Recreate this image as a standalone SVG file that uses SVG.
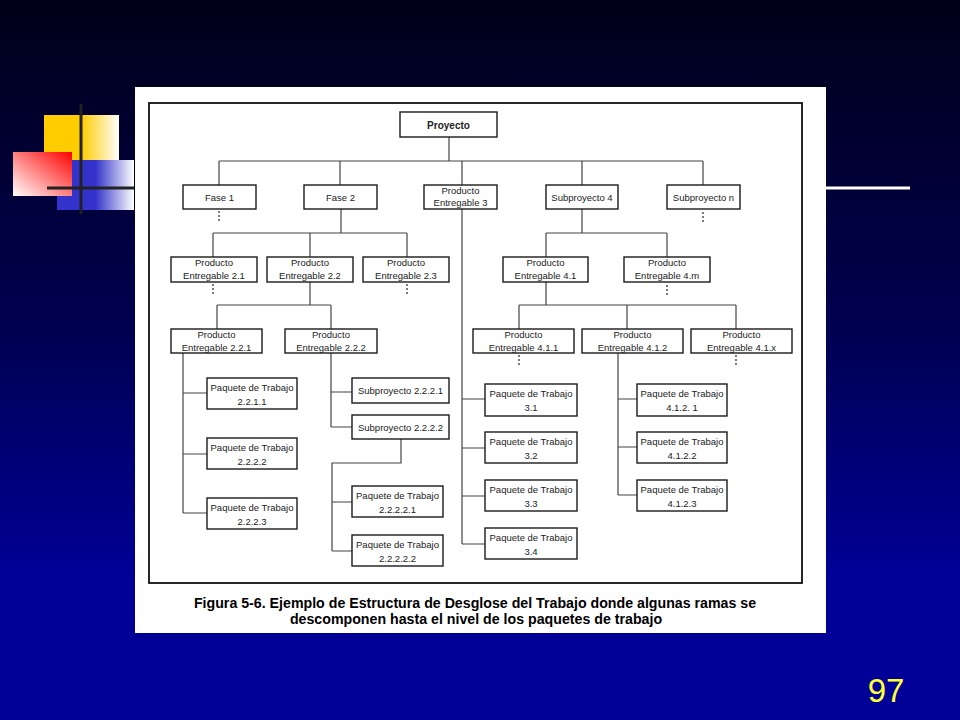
<svg xmlns="http://www.w3.org/2000/svg" width="960" height="720" viewBox="0 0 960 720">
<defs>
<linearGradient id="bg" x1="0" y1="0" x2="0" y2="1">
<stop offset="0" stop-color="#000018"/>
<stop offset="0.45" stop-color="#000050"/>
<stop offset="0.8" stop-color="#000096"/>
<stop offset="1" stop-color="#000099"/>
</linearGradient>
<linearGradient id="gy" x1="0" y1="0" x2="1" y2="0">
<stop offset="0" stop-color="#ffcc00"/>
<stop offset="0.5" stop-color="#ffcc00"/>
<stop offset="1" stop-color="#ffffff"/>
</linearGradient>
<linearGradient id="gb" x1="0" y1="0" x2="1" y2="0">
<stop offset="0" stop-color="#3333cc"/>
<stop offset="0.5" stop-color="#3333cc"/>
<stop offset="1" stop-color="#ffffff"/>
</linearGradient>
<linearGradient id="gr" x1="0" y1="1" x2="1" y2="0">
<stop offset="0" stop-color="#ffffff"/>
<stop offset="1" stop-color="#ff0000"/>
</linearGradient>
</defs>
<style>
.bx{fill:#fff;stroke:#1a1a1a;stroke-width:1.4}
.t{font-family:"Liberation Sans",Arial,sans-serif;font-size:9.5px;fill:#222;text-anchor:middle}
.tb{font-family:"Liberation Sans",Arial,sans-serif;font-size:10px;font-weight:bold;fill:#222;text-anchor:middle}
.ln{fill:none;stroke:#444;stroke-width:1.2}
.ds{fill:none;stroke:#222;stroke-width:1.2;stroke-dasharray:2,2}
.cap{font-family:"Liberation Sans",Arial,sans-serif;font-size:14.2px;font-weight:bold;fill:#000;text-anchor:middle}
</style>
<rect x="0" y="0" width="960" height="720" fill="url(#bg)"/>
<g id="decor">
<rect x="44" y="115" width="75" height="45" fill="url(#gy)"/>
<rect x="57" y="160" width="77" height="50" fill="url(#gb)"/>
<rect x="13" y="152" width="59" height="44" fill="url(#gr)"/>
<line x1="81" y1="104" x2="81" y2="214" stroke="#222" stroke-width="3"/>
<line x1="47" y1="188" x2="134" y2="188" stroke="#222" stroke-width="3"/>
<line x1="826" y1="188" x2="910" y2="188" stroke="#fff" stroke-width="3"/>
</g>
<rect x="135" y="87" width="691" height="546" fill="#fff"/>
<rect x="149" y="103" width="653" height="480" fill="none" stroke="#111" stroke-width="1.8"/>
<g id="connectors">
<path class="ln" d="M449 137V161M219 161H703M219 161V185M340 161V185M462 161V185M582 161V185M703 161V185"/>
<path class="ln" d="M341 209V233M213 233H407M213 233V257M310 233V257M407 233V257"/>
<path class="ln" d="M582 209V233M546 233H667M546 233V257M667 233V257"/>
<path class="ln" d="M310 282V305M217 305H331M217 305V329M331 305V329"/>
<path class="ln" d="M546 282V305M519 305H736M519 305V329M627 305V329M736 305V329"/>
<path class="ln" d="M183 353V513M183 393H207M183 454H207M183 513H207"/>
<path class="ln" d="M331 353V427M331 392H352M331 427H352"/>
<path class="ln" d="M401 439V463H332V551M332 502H352M332 551H352"/>
<path class="ln" d="M462 209V544M462 399H485M462 448H485M462 496H485M462 544H485"/>
<path class="ln" d="M618 353V495M618 399H637M618 447H637M618 495H637"/>
<path class="ds" d="M219 211V223M703 212V223M213 284V296M407 284V296M667 285V296M519 355V367M736 355V367"/>
</g>
<g id="n-proyecto"><rect class="bx" x="400" y="112" width="97" height="25"/><text class="tb" x="448.5" y="129">Proyecto</text></g>
<g id="n-fase1"><rect class="bx" x="183" y="185" width="73" height="24"/><text class="t" x="219.5" y="201">Fase 1</text></g>
<g id="n-fase2"><rect class="bx" x="304" y="185" width="73" height="24"/><text class="t" x="340.5" y="201">Fase 2</text></g>
<g id="n-pe3"><rect class="bx" x="424" y="185" width="73" height="24"/><text class="t" x="460.5" y="194">Producto</text><text class="t" x="460.5" y="206">Entregable 3</text></g>
<g id="n-sub4"><rect class="bx" x="546" y="185" width="72" height="24"/><text class="t" x="582" y="201">Subproyecto 4</text></g>
<g id="n-subn"><rect class="bx" x="667" y="185" width="73" height="24"/><text class="t" x="703.5" y="201">Subproyecto n</text></g>
<g id="n-pe21"><rect class="bx" x="171" y="257" width="86" height="25"/><text class="t" x="214" y="266">Producto</text><text class="t" x="214" y="279">Entregable 2.1</text></g>
<g id="n-pe22"><rect class="bx" x="267" y="257" width="86" height="25"/><text class="t" x="310" y="266">Producto</text><text class="t" x="310" y="279">Entregable 2.2</text></g>
<g id="n-pe23"><rect class="bx" x="363" y="257" width="86" height="25"/><text class="t" x="406" y="266">Producto</text><text class="t" x="406" y="279">Entregable 2.3</text></g>
<g id="n-pe41"><rect class="bx" x="503" y="257" width="85" height="25"/><text class="t" x="545.5" y="266">Producto</text><text class="t" x="545.5" y="279">Entregable 4.1</text></g>
<g id="n-pe4m"><rect class="bx" x="624" y="257" width="86" height="25"/><text class="t" x="667" y="266">Producto</text><text class="t" x="667" y="279">Entregable 4.m</text></g>
<g id="n-pe221"><rect class="bx" x="171" y="329" width="91" height="24"/><text class="t" x="216.5" y="338">Producto</text><text class="t" x="216.5" y="351">Entregable 2.2.1</text></g>
<g id="n-pe222"><rect class="bx" x="285" y="329" width="92" height="24"/><text class="t" x="331" y="338">Producto</text><text class="t" x="331" y="351">Entregable 2.2.2</text></g>
<g id="n-pe411"><rect class="bx" x="473" y="329" width="101" height="24"/><text class="t" x="523.5" y="338">Producto</text><text class="t" x="523.5" y="351">Entregable 4.1.1</text></g>
<g id="n-pe412"><rect class="bx" x="582" y="329" width="101" height="24"/><text class="t" x="632.5" y="338">Producto</text><text class="t" x="632.5" y="351">Entregable 4.1.2</text></g>
<g id="n-pe41x"><rect class="bx" x="691" y="329" width="101" height="24"/><text class="t" x="741.5" y="338">Producto</text><text class="t" x="741.5" y="351">Entregable 4.1.x</text></g>
<g id="n-wp2211"><rect class="bx" x="207" y="378" width="90" height="31"/><text class="t" x="252" y="391">Paquete de Trabajo</text><text class="t" x="252" y="405">2.2.1.1</text></g>
<g id="n-wp2222"><rect class="bx" x="207" y="438" width="90" height="31"/><text class="t" x="252" y="451">Paquete de Trabajo</text><text class="t" x="252" y="465">2.2.2.2</text></g>
<g id="n-wp2223"><rect class="bx" x="207" y="498" width="90" height="31"/><text class="t" x="252" y="511">Paquete de Trabajo</text><text class="t" x="252" y="525">2.2.2.3</text></g>
<g id="n-sub2221"><rect class="bx" x="352" y="378" width="97" height="25"/><text class="t" x="400.5" y="394">Subproyecto 2.2.2.1</text></g>
<g id="n-sub2222"><rect class="bx" x="352" y="415" width="97" height="24"/><text class="t" x="400.5" y="431">Subproyecto 2.2.2.2</text></g>
<g id="n-wp22221"><rect class="bx" x="352" y="486" width="91" height="31"/><text class="t" x="397.5" y="499">Paquete de Trabajo</text><text class="t" x="397.5" y="513">2.2.2.2.1</text></g>
<g id="n-wp22222"><rect class="bx" x="352" y="535" width="91" height="31"/><text class="t" x="397.5" y="548">Paquete de Trabajo</text><text class="t" x="397.5" y="562">2.2.2.2.2</text></g>
<g id="n-wp31"><rect class="bx" x="485" y="384" width="92" height="32"/><text class="t" x="531" y="397">Paquete de Trabajo</text><text class="t" x="531" y="411">3.1</text></g>
<g id="n-wp32"><rect class="bx" x="485" y="432" width="92" height="31"/><text class="t" x="531" y="445">Paquete de Trabajo</text><text class="t" x="531" y="459">3.2</text></g>
<g id="n-wp33"><rect class="bx" x="485" y="480" width="92" height="31"/><text class="t" x="531" y="493">Paquete de Trabajo</text><text class="t" x="531" y="507">3.3</text></g>
<g id="n-wp34"><rect class="bx" x="485" y="528" width="92" height="31"/><text class="t" x="531" y="541">Paquete de Trabajo</text><text class="t" x="531" y="555">3.4</text></g>
<g id="n-wp4121"><rect class="bx" x="637" y="384" width="90" height="32"/><text class="t" x="682" y="397">Paquete de Trabajo</text><text class="t" x="682" y="411">4.1.2. 1</text></g>
<g id="n-wp4122"><rect class="bx" x="637" y="432" width="90" height="31"/><text class="t" x="682" y="445">Paquete de Trabajo</text><text class="t" x="682" y="459">4.1.2.2</text></g>
<g id="n-wp4123"><rect class="bx" x="637" y="480" width="90" height="31"/><text class="t" x="682" y="493">Paquete de Trabajo</text><text class="t" x="682" y="507">4.1.2.3</text></g>
<text class="cap" x="475" y="608">Figura 5-6. Ejemplo de Estructura de Desglose del Trabajo donde algunas ramas se</text>
<text class="cap" x="476" y="624">descomponen hasta el nivel de los paquetes de trabajo</text>
<text x="886" y="702" font-family="'Liberation Sans',Arial,sans-serif" font-size="33" fill="#ffff33" text-anchor="middle">97</text>
</svg>
